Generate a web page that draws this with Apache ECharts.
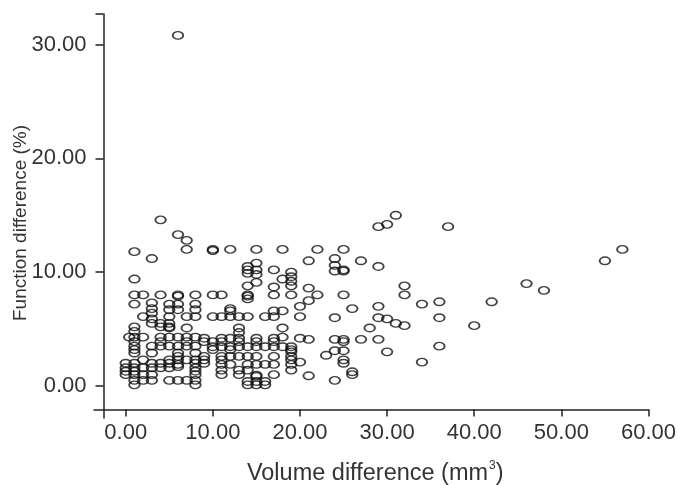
<!DOCTYPE html>
<html>
<head>
    <meta charset="utf-8">
    <title>Volume vs function difference</title>
    <script src="https://cdn.jsdelivr.net/npm/echarts/dist/echarts.min.js"></script>
</head>
<body style="margin:0;background:#fff;">
    <div id="main" style="width:678px;height:485px;"></div>
    <script type="text/javascript">
        // volume difference (mm3) of each column of points
        var volume = [0, 0.4, 1, 2, 3, 4, 5, 6, 7, 8, 9, 10, 11, 12, 13, 14, 15, 16, 17, 18, 19, 20,
            21, 22, 23, 24, 25, 26, 27, 28, 29, 30, 31, 32, 34, 36, 37, 40, 42, 46, 48, 55, 57];
        // function difference (%) of the points in each column
        var functionDiff = [
            [1.0, 1.3, 1.6, 2.0],
            [4.3],
            [0.1, 0.5, 1.0, 1.3, 1.6, 2.0, 2.9, 3.2, 3.5, 3.9, 4.3, 4.8, 5.2, 7.2, 8.0, 9.4, 11.8],
            [0.5, 1.0, 1.6, 2.3, 4.3, 6.1, 8.0],
            [0.5, 1.0, 1.6, 2.0, 2.9, 3.5, 5.5, 5.9, 6.4, 6.8, 7.3, 11.2],
            [1.6, 2.0, 3.5, 3.9, 4.3, 5.2, 5.5, 8.0, 14.6],
            [0.5, 1.6, 2.0, 2.3, 3.5, 4.3, 5.1, 5.2, 5.5, 6.1, 6.7, 7.2],
            [0.5, 1.7, 1.9, 2.3, 2.6, 2.9, 3.5, 4.3, 6.7, 7.2, 7.9, 8.0, 13.3, 30.8],
            [0.5, 2.3, 3.5, 3.9, 4.3, 5.1, 6.1, 12.0, 12.8],
            [0.1, 0.5, 1.0, 1.3, 1.6, 2.0, 2.3, 2.9, 3.5, 4.3, 6.1, 6.7, 7.2, 8.0],
            [2.0, 2.3, 2.6, 3.9, 4.2],
            [3.2, 3.45, 3.9, 6.1, 8.0, 11.9, 12.0],
            [1.0, 1.4, 1.9, 2.3, 2.6, 3.45, 3.9, 4.2, 6.1, 8.0],
            [1.9, 2.6, 3.2, 3.45, 4.2, 6.1, 6.6, 6.8, 12.0],
            [1.0, 1.4, 2.6, 3.45, 3.9, 4.2, 4.7, 5.1, 6.1],
            [0.1, 0.4, 1.4, 1.9, 2.6, 3.45, 6.1, 7.65, 7.9, 8.0, 8.8, 9.9, 10.2, 10.5],
            [0.1, 0.4, 0.85, 0.95, 1.9, 2.6, 3.45, 3.9, 4.2, 9.1, 9.8, 10.2, 10.8, 12.0],
            [0.1, 0.4, 1.9, 3.45, 6.1],
            [1.0, 1.9, 2.6, 3.45, 3.9, 4.2, 6.1, 6.6, 8.0, 8.7, 10.2],
            [3.45, 4.3, 5.1, 6.6, 9.4, 12.0],
            [1.4, 1.9, 2.3, 2.6, 3.0, 3.2, 3.45, 8.0, 8.8, 9.2, 9.6, 10.0],
            [2.1, 4.2, 6.1, 7.0],
            [0.9, 4.1, 7.5, 8.6, 11.0],
            [8.0, 12.0],
            [2.7],
            [0.5, 3.1, 4.1, 6.0, 10.1, 10.6, 11.2],
            [2.0, 2.3, 3.1, 3.9, 4.1, 8.0, 10.1, 10.2, 12.0],
            [1.0, 1.25, 6.8],
            [4.1, 11.0],
            [5.1],
            [4.1, 6.0, 7.0, 10.5, 14.0],
            [3.0, 5.9, 14.2],
            [5.5, 15.0],
            [5.3, 8.0, 8.8],
            [2.1, 7.2],
            [3.5, 6.0, 7.4],
            [14.0],
            [5.3],
            [7.4],
            [9.0],
            [8.4],
            [11.0],
            [12.0]
        ];
        var xTicks = [0, 10, 20, 30, 40, 50, 60];
        var yTicks = [0, 10, 20, 30];

        var points = [];
        volume.forEach(function (v, i) {
            functionDiff[i].forEach(function (f) {
                points.push([v, f]);
            });
        });

        var myChart = echarts.init(document.getElementById('main'));
        var font = 'Liberation Sans, Arial, sans-serif';

        var option = {
            animation: false,
            grid: { left: 94, right: 29.5, top: 14, bottom: 67, outerBoundsMode: 'none', containLabel: false },
            xAxis: {
                type: 'value',
                min: -3.64,
                max: 60,
                offset: -8.5,
                name: 'Volume difference (mm{sup|3})',
                nameLocation: 'middle',
                nameGap: 50,
                nameMoveOverlap: false,
                nameTextStyle: {
                    fontFamily: font, fontSize: 23.5, color: '#333', padding: [0, 0, 0, 8],
                    rich: { sup: { fontFamily: font, fontSize: 12, color: '#333', padding: [0, 0, 16, 1] } }
                },
                axisLine: { onZero: false, lineStyle: { color: '#222', width: 1.5 } },
                axisTick: { length: 7, lineStyle: { color: '#222', width: 1.5 }, customValues: xTicks },
                axisLabel: {
                    customValues: xTicks, margin: 12, fontFamily: font, fontSize: 22, color: '#333',
                    formatter: function (v) { return v.toFixed(2); }
                },
                splitLine: { show: false }
            },
            yAxis: {
                type: 'value',
                min: -2.81,
                max: 32.68,
                offset: -9.5,
                name: 'Function difference (%)',
                nameLocation: 'middle',
                nameGap: 73,
                nameMoveOverlap: false,
                nameTextStyle: { fontFamily: font, fontSize: 19, color: '#333', padding: [0, 14, 0, 0] },
                axisLine: { onZero: false, lineStyle: { color: '#222', width: 1.5 } },
                axisTick: { length: 8, lineStyle: { color: '#222', width: 1.5 }, customValues: yTicks.concat([32.68]) },
                axisLabel: {
                    customValues: yTicks, margin: 17, fontFamily: font, fontSize: 22, color: '#333',
                    formatter: function (v) { return v.toFixed(2); }
                },
                splitLine: { show: false }
            },
            series: [{
                type: 'scatter',
                symbol: 'circle',
                symbolSize: [10.5, 7.5],
                itemStyle: { color: 'rgba(0,0,0,0)', borderColor: '#111', borderWidth: 1.6 },
                emphasis: { disabled: true },
                data: points
            }]
        };
        myChart.setOption(option);
    </script>
</body>
</html>
